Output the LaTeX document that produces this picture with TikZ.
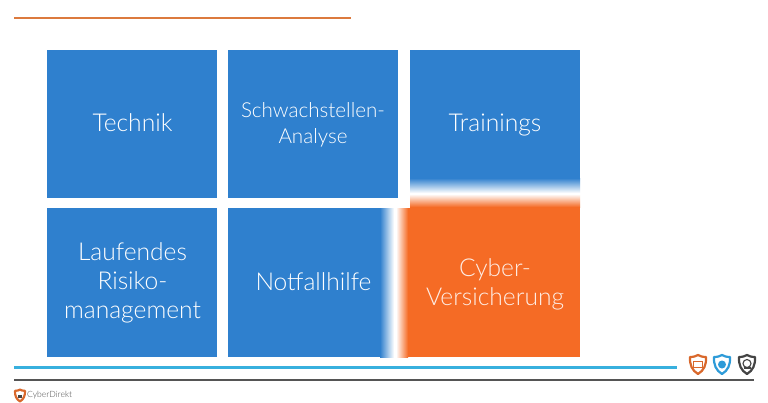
\documentclass[tikz,border=0pt]{standalone}
\usepackage{fontspec}
\setmainfont{Lato Light}
\usetikzlibrary{calc}
\definecolor{tileblue}{HTML}{2F80CE}
\definecolor{tileorange}{HTML}{F56B25}
\definecolor{ruleorange}{HTML}{DC7A3E}
\definecolor{rulecyan}{HTML}{38B0DE}
\definecolor{rulegrey}{HTML}{555555}
\definecolor{iconorange}{HTML}{D9682C}
\definecolor{iconblue}{HTML}{2E9BD8}
\definecolor{icongrey}{HTML}{444444}
\tikzset{
  tile/.style={fill=tileblue,draw=none,minimum width=170pt,inner sep=0pt,anchor=north west},
  tilelabel/.style={text=white,align=center,font=\fontsize{#1}{1.19\dimexpr#1pt\relax}\selectfont,inner sep=0pt},
  tilelabel/.default=24.6,
  shieldline/.style={line width=2.2pt,fill=white,line join=round},
}
\newcommand{\shieldicon}[3]{%
  \draw[shieldline,draw=#3] (#1-8,#2-7.5) .. controls (#1-4,#2-7.5) and (#1-2,#2-8.5) .. (#1,#2-9.5)
    .. controls (#1+2,#2-8.5) and (#1+4,#2-7.5) .. (#1+8,#2-7.5)
    .. controls (#1+8.5,#2) and (#1+6,#2+6) .. (#1,#2+9.5)
    .. controls (#1-6,#2+6) and (#1-8.5,#2) .. (#1-8,#2-7.5) -- cycle;}
\begin{document}
\begin{tikzpicture}[x=1pt,y=-1pt]
\useasboundingbox[fill=white] (0,0) rectangle (768,402);
% top rule
\coordinate (ra) at (14,18); \coordinate (rb) at (351,18);
\draw[ruleorange,line width=1.8pt] (ra) -- (rb);
% tiles
\node[tile,minimum height=148pt] (t1) at (47,50) {};
\node[tile,minimum height=148pt] (t2) at (228,50) {};
\node[tile,minimum height=149pt] (t4) at (47,208) {};
% faded trainings tile
\fill[tileblue] (410,50) rectangle (580,178);
\shade[top color=tileblue,bottom color=white] (410,178) rectangle (580,193);
% faded notfall tile
\fill[tileblue] (228,208) rectangle (380,357);
\shade[left color=tileblue,right color=white] (380,208) rectangle (394,357);
% orange tile
\fill[tileorange] (410,207) rectangle (580,357);
\shade[top color=white,bottom color=tileorange] (410,194) rectangle (580,207);
\shade[left color=white,right color=tileorange] (396,208) rectangle (408,357);
\fill[tileorange] (408,208) rectangle (410,357);
% labels
\node[tilelabel] (l1) at (132.5,123) {Technik};
\node[tilelabel=20.6] (l2) at (313,125) {Schwachstellen-\\[1pt]Analyse};
\node[tilelabel] (l3) at (495,125) {Trainings};
\node[tilelabel] (l4) at (132.5,283) {Laufendes\\Risiko-\\management};
\node[tilelabel] (l5) at (313.5,282) {Notfallhilfe};
\node[tilelabel,text=white!88!tileorange] (l6) at (495,284) {Cyber-\\Versicherung};
% lower rules
\coordinate (ca) at (14,367.5); \coordinate (cb) at (677,367.5);
\draw[rulecyan,line width=2.2pt] (ca) -- (cb);
\coordinate (ga) at (14,380); \coordinate (gb) at (754,380);
\draw[rulegrey,line width=1.5pt] (ga) -- (gb);
% icons
\shieldicon{698}{364.5}{iconorange}
\fill[white,draw=iconorange,line width=.9pt] (693.5,361.5) rectangle (702.5,367);
\shieldicon{722}{364.5}{iconblue}
\fill[iconblue] (722,364.5) circle (4pt);
\shieldicon{747}{364.5}{icongrey}
\draw[icongrey,line width=1.1pt] (747,363.5) circle (4pt);
\draw[icongrey,line width=1.1pt] (743.5,368) -- (750.5,368);
% footer logo
\begin{scope}[shift={(20,395.5)},scale=.62]
\draw[line width=2.2pt,draw=iconorange,fill=white,line join=round] (-8,-7.5) .. controls (-4,-7.5) and (-2,-8.5) .. (0,-9.5)
    .. controls (2,-8.5) and (4,-7.5) .. (8,-7.5)
    .. controls (8.5,0) and (6,6) .. (0,9.5)
    .. controls (-6,6) and (-8.5,0) .. (-8,-7.5) -- cycle;
\fill[icongrey] (-3,-1.5) rectangle (3,3.5);
\end{scope}
\node[anchor=west,inner sep=0pt,text=black!70,font=\fontsize{8.6}{10}\selectfont] (brand) at (27,395.5) {CyberDirekt};
\end{tikzpicture}
\end{document}
